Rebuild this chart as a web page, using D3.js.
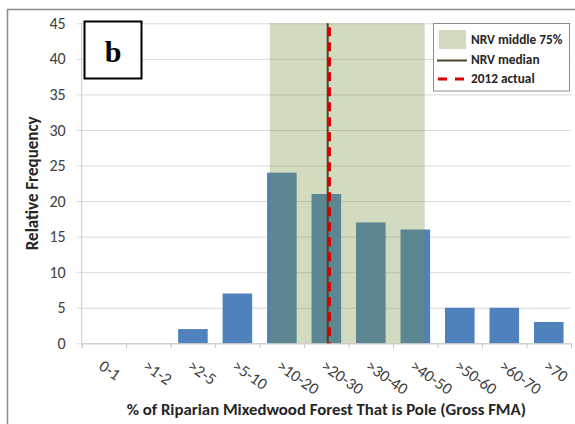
<!DOCTYPE html>
<html><head><meta charset="utf-8">
<script src="https://cdn.jsdelivr.net/npm/d3@7"></script>
<style>
body{margin:0;background:#fff;}
svg{display:block;}
</style></head>
<body><svg id="c" width="575" height="424"></svg>
<script>
const categories = ["0-1", ">1-2", ">2-5", ">5-10", ">10-20", ">20-30", ">30-40", ">40-50", ">50-60", ">60-70", ">70"];
const frequency = [0, 0, 2, 7, 24, 21, 17, 16, 5, 5, 3];
const yTicks = [0, 5, 10, 15, 20, 25, 30, 35, 40, 45];
// NRV reference values on the category-position axis (0 = left edge of first bin)
const nrvMiddleRange = [4.23, 7.71];
const nrvMedian = [5.53];
const actual2012 = [5.57];
const legendItems = ["NRV middle 75%", "NRV median", "2012 actual"];

const svg = d3.select("#c");
const font = "Carlito, Calibri, Lato, 'Open Sans', sans-serif";
const L = 81.7, R = 571, T = 23.3, B = 343.3;

const x = d3.scaleBand().domain(categories).range([L, R]).paddingInner(0.335).paddingOuter(0.1675);
const xPos = d3.scaleLinear().domain([0, categories.length]).range([L, R]);
const y = d3.scaleLinear().domain([0, 45]).range([B, T]);

// outer frame
svg.append("path").attr("d", "M7.5,424 V9.5 H575").attr("fill", "none").attr("stroke", "#8c8c8c").attr("stroke-width", 1.5);

// gridlines + y axis
const yAxis = d3.axisLeft(y).tickValues(yTicks).tickSize(-(R - L)).tickSizeOuter(0).tickPadding(16);
const gy = svg.append("g").attr("transform", `translate(${L},0)`).call(yAxis);
gy.select(".domain").remove();
gy.selectAll(".tick line").attr("stroke", "#d9d9d9").attr("x1", -5);
gy.selectAll(".tick text").attr("font-family", font).attr("font-size", 16).attr("fill", "#404040");
svg.append("line").attr("x1", L).attr("x2", L).attr("y1", T).attr("y2", B).attr("stroke", "#c8c8c8");

// bars
svg.append("g").selectAll("rect").data(frequency).join("rect")
  .attr("x", (d, i) => x(categories[i]))
  .attr("width", x.bandwidth())
  .attr("y", d => y(d))
  .attr("height", d => y(0) - y(d))
  .attr("fill", "#4f81bd");

// shaded NRV middle 75%
svg.append("rect")
  .attr("x", xPos(nrvMiddleRange[0]))
  .attr("width", xPos(nrvMiddleRange[1]) - xPos(nrvMiddleRange[0]))
  .attr("y", y(45)).attr("height", y(0) - y(45))
  .attr("fill", "rgb(118,146,60)").attr("fill-opacity", 0.33);

// x axis
const xAxis = d3.axisBottom(xPos).tickValues(d3.range(categories.length + 1)).tickSize(5).tickFormat("");
const gx = svg.append("g").attr("transform", `translate(0,${B})`).call(xAxis);
gx.select(".domain").attr("stroke", "#c8c8c8");
gx.selectAll(".tick line").attr("stroke", "#c8c8c8");

// x labels
svg.append("g").selectAll("text").data(categories).join("text")
  .attr("transform", d => `translate(${x(d) + x.bandwidth() / 2 + 1},${B + 15}) rotate(35)`)
  .attr("dy", "0.75em")
  .attr("text-anchor", "start")
  .attr("font-family", font).attr("font-size", 16.5).attr("fill", "#404040")
  .text(d => d);

// median and actual lines
svg.append("line").attr("x1", xPos(nrvMedian[0])).attr("x2", xPos(nrvMedian[0]))
  .attr("y1", y(45)).attr("y2", y(0)).attr("stroke", "#4a452a").attr("stroke-width", 2);
svg.append("line").attr("x1", xPos(actual2012[0])).attr("x2", xPos(actual2012[0]))
  .attr("y1", y(45) + 4).attr("y2", y(0)).attr("stroke", "#d40000").attr("stroke-width", 3)
  .attr("stroke-dasharray", "9,6");

// axis titles
svg.append("text").attr("x", (L + R) / 2).attr("y", 415).attr("text-anchor", "middle")
  .attr("font-family", font).attr("font-weight", "bold").attr("font-size", 16.8).attr("fill", "#262626")
  .text("% of Riparian Mixedwood Forest That is Pole (Gross FMA)");
svg.append("text").attr("transform", `translate(37.5,${(T + B) / 2}) rotate(-90)`).attr("text-anchor", "middle")
  .attr("font-family", font).attr("font-weight", "bold").attr("font-size", 17).attr("fill", "#262626")
  .text("Relative Frequency");

// "b" panel label
svg.append("rect").attr("x", 84.5).attr("y", 21.5).attr("width", 57).attr("height", 57)
  .attr("fill", "#fff").attr("stroke", "#000").attr("stroke-width", 2);
svg.append("text").attr("x", 113).attr("y", 62).attr("text-anchor", "middle")
  .attr("font-family", "'Liberation Serif', 'Times New Roman', serif").attr("font-weight", "bold").attr("font-size", 30)
  .text("b");

// legend
const lg = svg.append("g");
lg.append("rect").attr("x", 433.5).attr("y", 23.5).attr("width", 136).attr("height", 67.5)
  .attr("fill", "#fff").attr("stroke", "#8c8c8c");
lg.append("rect").attr("x", 439).attr("y", 30).attr("width", 27).attr("height", 19)
  .attr("fill", "rgb(118,146,60)").attr("fill-opacity", 0.33);
lg.append("line").attr("x1", 437).attr("x2", 467).attr("y1", 60.5).attr("y2", 60.5)
  .attr("stroke", "#4a452a").attr("stroke-width", 2);
lg.append("line").attr("x1", 438).attr("x2", 467).attr("y1", 79).attr("y2", 79)
  .attr("stroke", "#d40000").attr("stroke-width", 3).attr("stroke-dasharray", "9,8");
lg.selectAll("text.l").data(legendItems).join("text").attr("class", "l")
  .attr("x", 471).attr("y", (d, i) => 44 + i * 19.5)
  .attr("font-family", font).attr("font-weight", "bold").attr("font-size", 13.3).attr("fill", "#262626")
  .text(d => d);
</script></body></html>
